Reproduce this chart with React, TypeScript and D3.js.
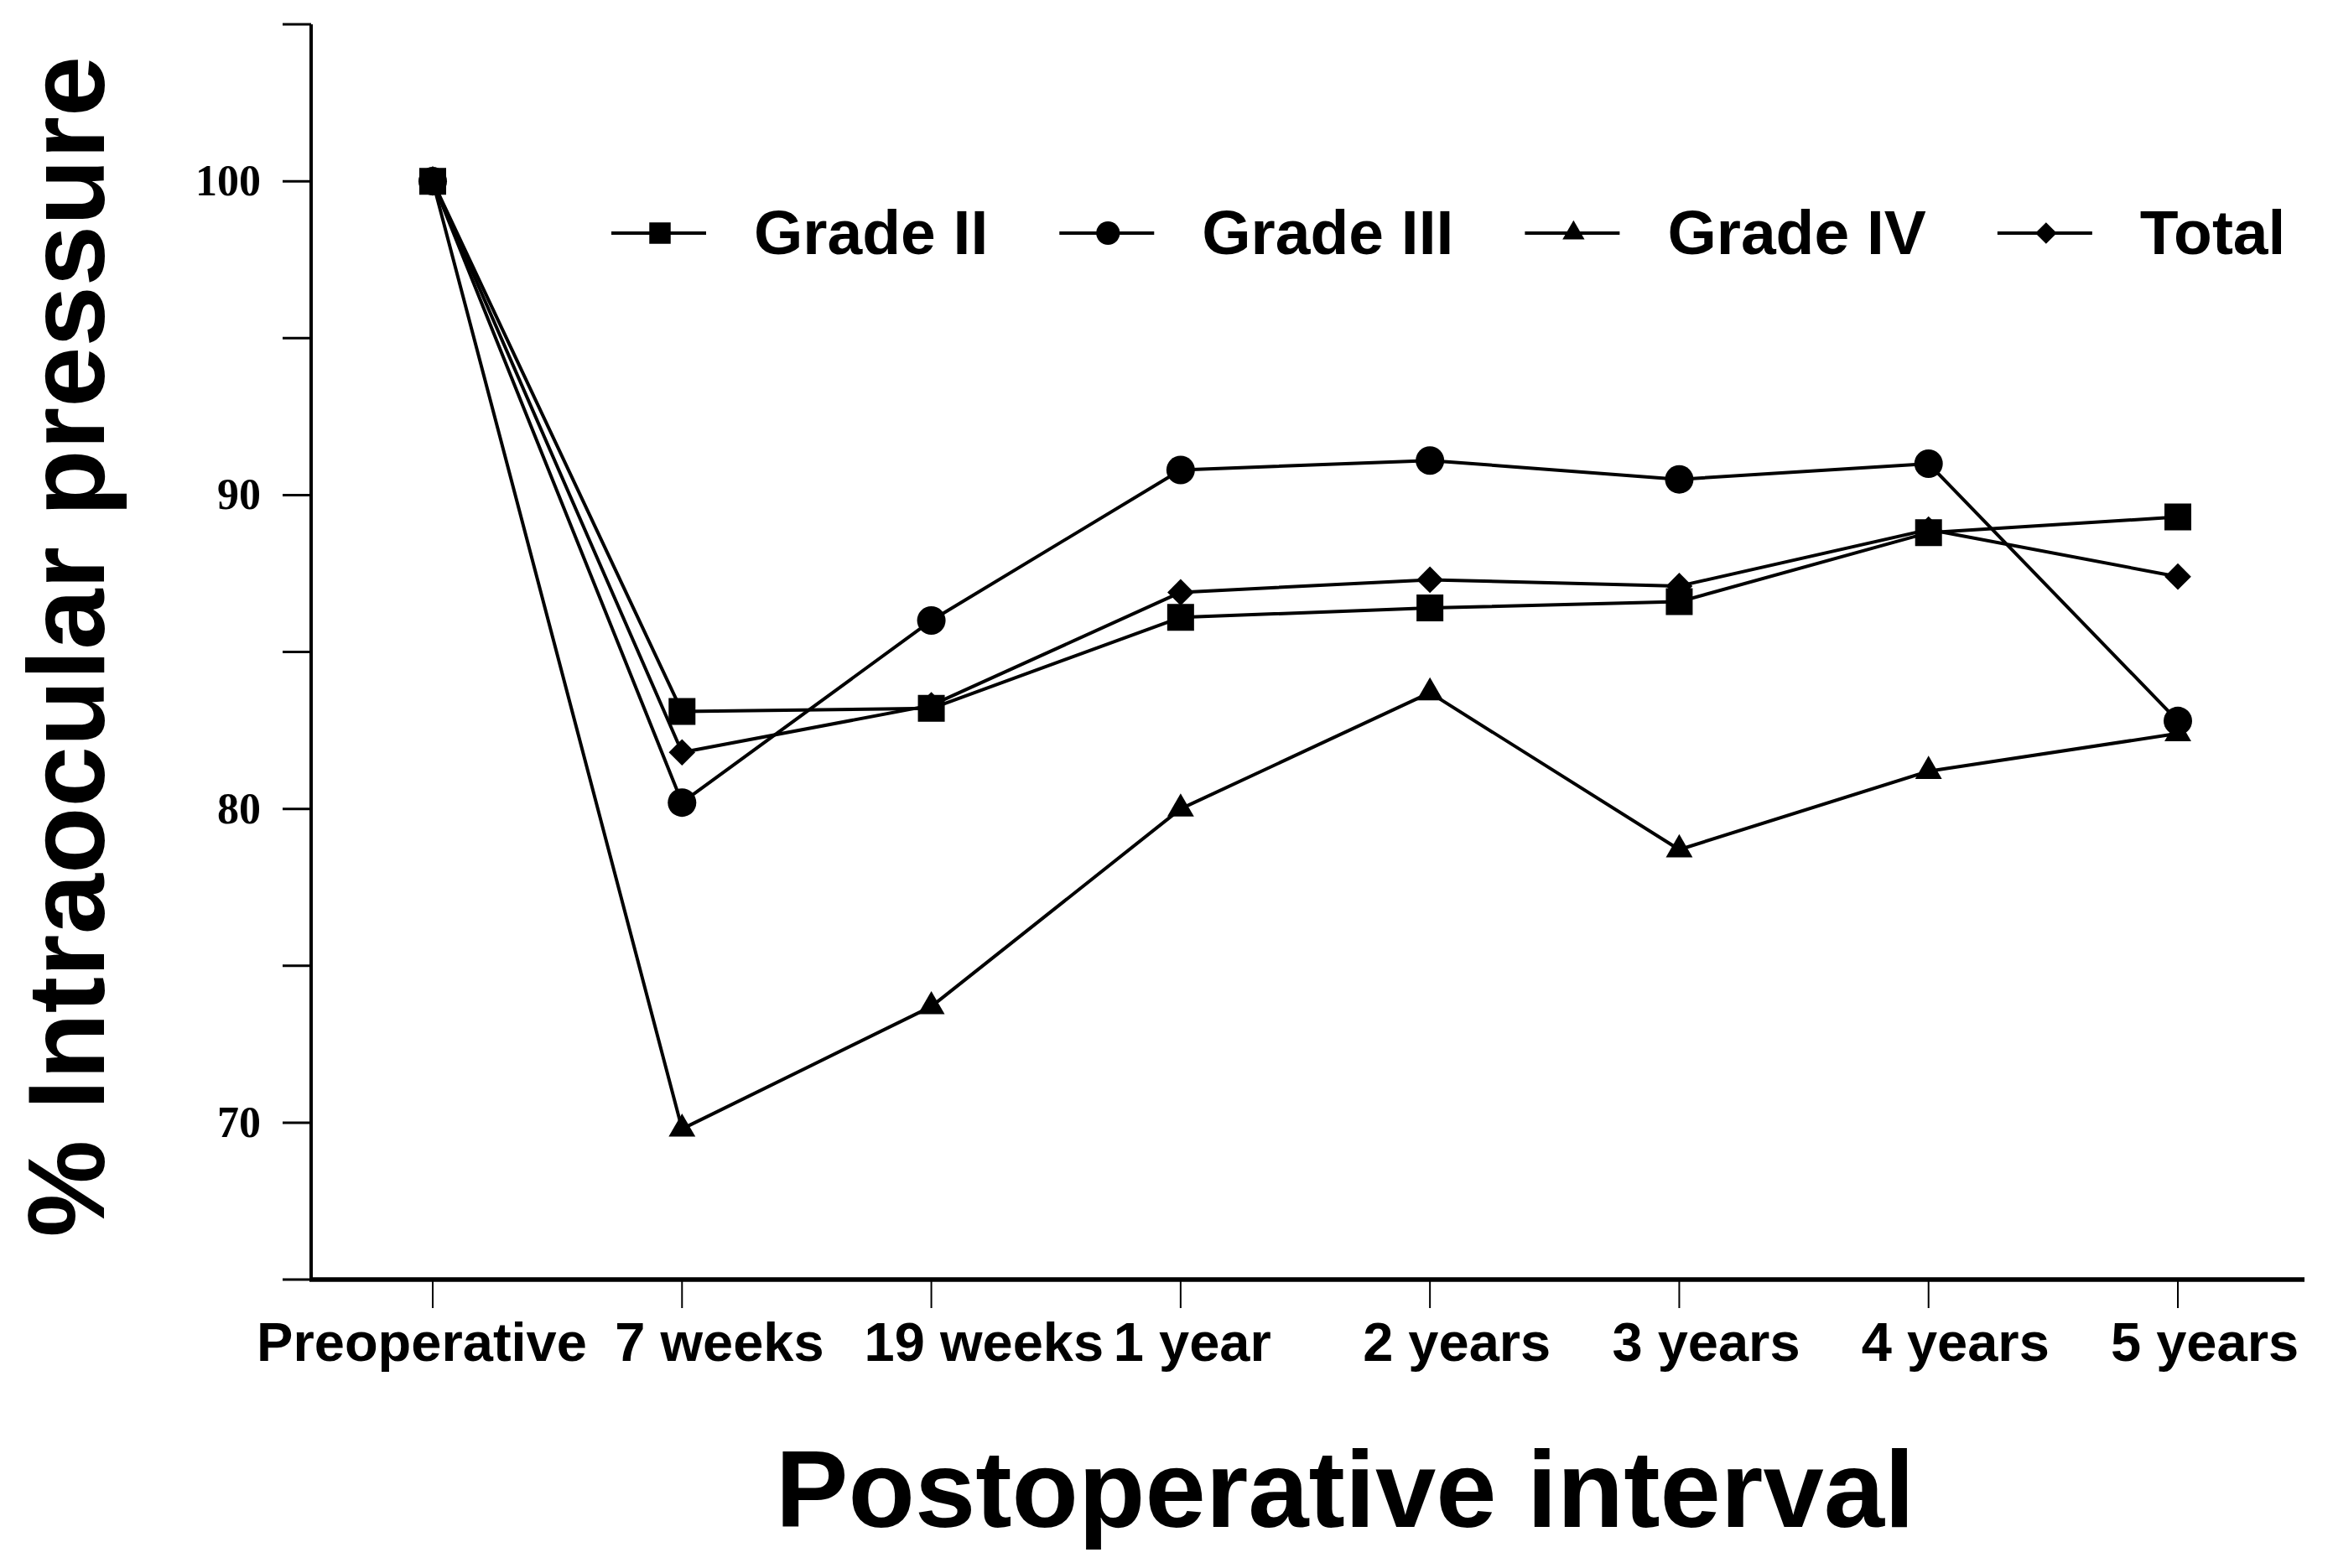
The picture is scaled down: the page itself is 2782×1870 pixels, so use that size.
import * as d3 from "d3";

// intervals on the x axis
const intervals = ["Preoperative", "7 weeks", "19 weeks", "1 year", "2 years", "3 years", "4 years", "5 years"];

// % of preoperative IOP
const gradeII = [100, 83.1, 83.2, 86.1, 86.4, 86.6, 88.8, 89.3];
const gradeIII = [100, 80.2, 86.0, 90.8, 91.1, 90.5, 91.0, 82.8];
const gradeIV = [100, 69.8, 73.7, 80.0, 83.7, 78.7, 81.2, 82.4];
const total = [100, 81.8, 83.3, 86.9, 87.3, 87.1, 88.9, 87.4];

const seriesNames = ["Grade II", "Grade III", "Grade IV", "Total"];
const yTicks = [65, 70, 75, 80, 85, 90, 95, 100, 105];
const yLabelTicks = [70, 80, 90, 100];

const W = 2782;
const H = 1870;
const SANS = "'Liberation Sans', Arial, sans-serif";
const SERIF = "'Liberation Serif', 'Times New Roman', serif";

const measure = (txt: string, font: string) => {
  const ctx = document.createElement("canvas").getContext("2d");
  if (!ctx) return txt.length * 40;
  ctx.font = font;
  return ctx.measureText(txt).width;
};

export default function App() {
  const x = d3.scalePoint<string>().domain(intervals).range([516, 2597]);
  const y = d3.scaleLinear().domain([65, 105]).range([1526, 29]);

  const all = [gradeII, gradeIII, gradeIV, total];
  const symbols = [d3.symbolSquare, d3.symbolCircle, d3.symbolTriangle, d3.symbolSquare];
  const sizes = [1024, 908, 440, 500];
  const legSizes = [650, 620, 300, 330];
  const rot = [0, 0, 0, 45];

  const line = d3
    .line<number>()
    .x((_, i) => x(intervals[i])!)
    .y((d) => y(d));

  // legend layout, left to right
  const legFont = `bold 75px ${SANS}`;
  let lx = 729;
  const legend = seriesNames.map((name, i) => {
    const item = { name, i, x: lx };
    lx += 170 + measure(name, legFont) + 85;
    return item;
  });

  return (
    <svg
      width={W}
      height={H}
      style={{ position: "absolute", left: 0, top: 0, background: "#fff" }}
    >
      <rect width={W} height={H} fill="#fff" />

      {/* y axis */}
      <line x1={371} x2={371} y1={y(105)} y2={y(65)} stroke="#000" strokeWidth={4} />
      {yTicks.map((t) => (
        <line key={t} x1={337} x2={371} y1={y(t)} y2={y(t)} stroke="#000" strokeWidth={3} />
      ))}
      {yLabelTicks.map((t) => (
        <text
          key={t}
          x={311}
          y={y(t) + 17}
          textAnchor="end"
          fontFamily={SERIF}
          fontWeight="bold"
          fontSize={52}
        >
          {t}
        </text>
      ))}

      {/* x axis */}
      <line x1={369} x2={2748} y1={1526} y2={1526} stroke="#000" strokeWidth={5.5} />
      {intervals.map((c, i) => (
        <g key={c}>
          <line x1={x(c)} x2={x(c)} y1={1526} y2={1560} stroke="#000" strokeWidth={2} />
          <text
            x={i === 0 ? x(c)! - 13 : x(c)! - 80}
            y={1623}
            textAnchor={i === 0 ? "middle" : "start"}
            fontFamily={SANS}
            fontWeight="bold"
            fontSize={65}
          >
            {c}
          </text>
        </g>
      ))}

      {/* series */}
      {all.map((s, k) => (
        <g key={seriesNames[k]}>
          <path d={line(s) || ""} fill="none" stroke="#000" strokeWidth={4} strokeLinejoin="round" />
          {s.map((v, i) => (
            <path
              key={i}
              d={d3.symbol(symbols[k], sizes[k])() || ""}
              transform={`translate(${x(intervals[i])},${y(v)}) rotate(${rot[k]})`}
              fill="#000"
            />
          ))}
        </g>
      ))}

      {/* legend */}
      {legend.map((l) => (
        <g key={l.name}>
          <line x1={l.x} x2={l.x + 113} y1={278} y2={278} stroke="#000" strokeWidth={4} />
          <path
            d={d3.symbol(symbols[l.i], legSizes[l.i])() || ""}
            transform={`translate(${l.x + 58},278) rotate(${rot[l.i]})`}
            fill="#000"
          />
          <text x={l.x + 170} y={303} fontFamily={SANS} fontWeight="bold" fontSize={75}>
            {l.name}
          </text>
        </g>
      ))}

      {/* axis titles */}
      <text
        transform="translate(124,771) rotate(-90)"
        textAnchor="middle"
        fontFamily={SANS}
        fontWeight="bold"
        fontSize={130}
      >
        % Intraocular pressure
      </text>
      <text x={1604} y={1821} textAnchor="middle" fontFamily={SANS} fontWeight="bold" fontSize={130}>
        Postoperative interval
      </text>
    </svg>
  );
}
